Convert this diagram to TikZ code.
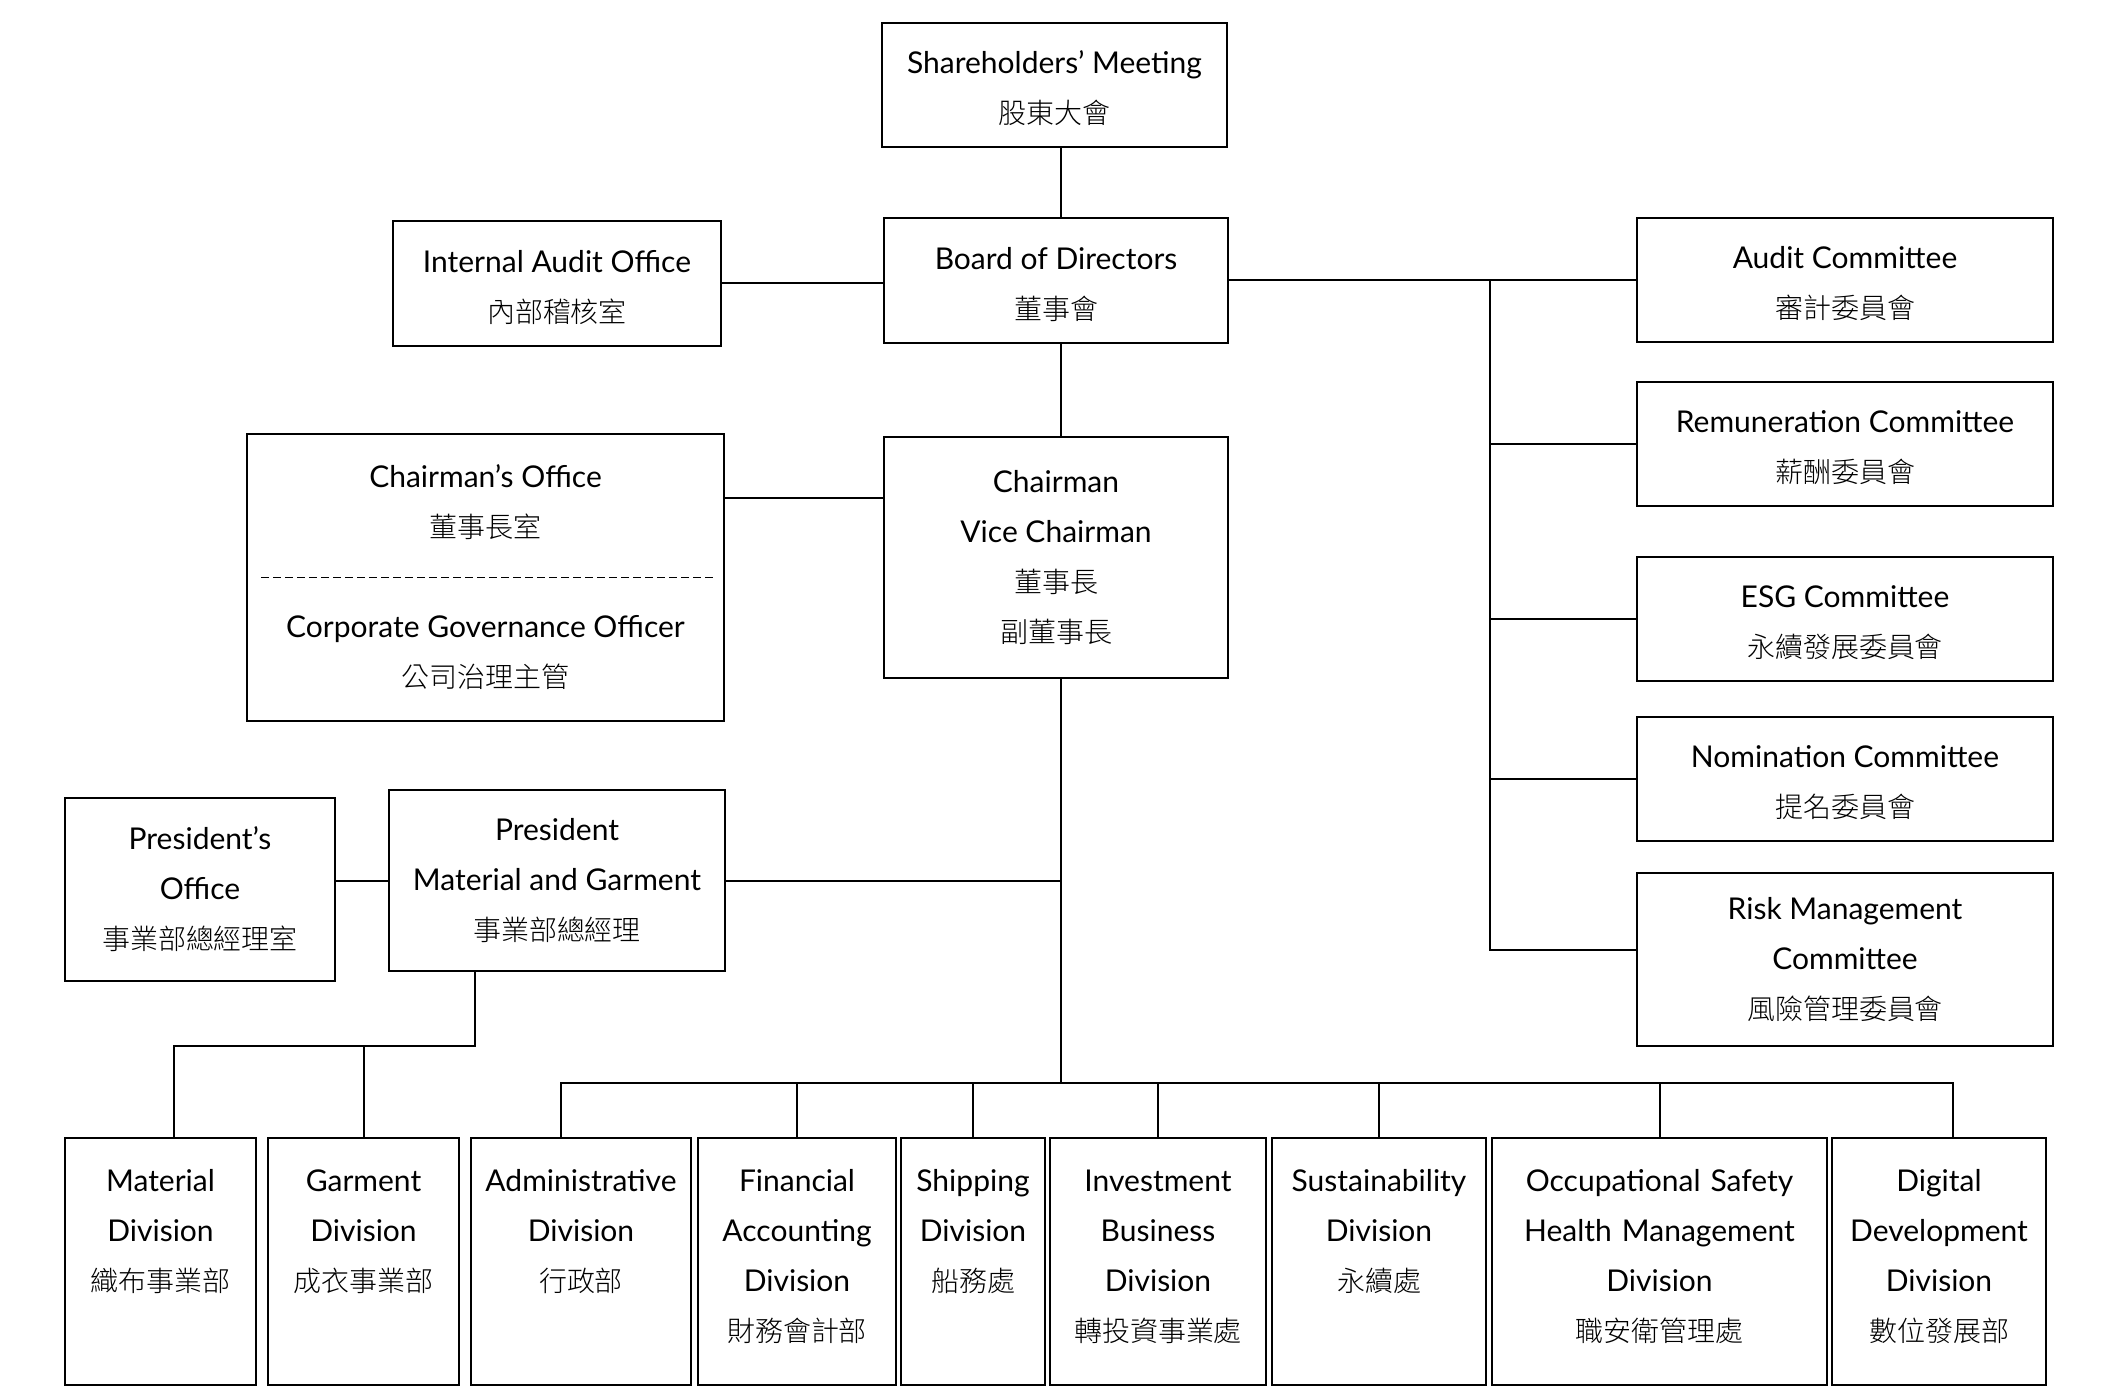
\documentclass[tikz,border=0pt]{standalone}
\usepackage{fontspec}
\setmainfont{Lato}
\IfFontExistsTF{Noto Sans CJK TC Light}{\newfontfamily\cjk{Noto Sans CJK TC Light}[Scale=0.933]}{\newfontfamily\cjk{Noto Sans CJK TC}[Scale=0.933]}

\begin{document}
\begin{tikzpicture}
  [x=0.5pt, y=-0.5pt,
   box/.style={draw, line width=1pt, align=center, inner sep=0pt, font={\fontsize{15pt}{25pt}\selectfont}},
   committee/.style={box, minimum width=208pt, minimum height=62pt},
   division/.style={box, anchor=north, text height=26.5pt, text depth=97pt}]
  \fill[white] (0,0) rectangle (2109,1400);
  \useasboundingbox (0,0) rectangle (2109,1400);

  % top of the chart (the rule lowers the two-line texts a bit)
  \node[box, minimum width=172.5pt, minimum height=62pt] (sm) at (1054.5,85) {\rule{0pt}{15pt}Shareholders’ Meeting\\{\cjk 股東大會}};
  \node[box, minimum width=172pt, minimum height=62.5pt] (bod) at (1056,280.5) {\rule{0pt}{15pt}Board of Directors\\{\cjk 董事會}};
  \node[box, minimum width=164pt, minimum height=62.5pt] (iao) at (557,283.5) {\rule{0pt}{15pt}Internal Audit Office\\{\cjk 內部稽核室}};
  \node[box, minimum width=238.5pt, minimum height=143.5pt] (cmo) at (485.5,577.5)
    {Chairman’s Office\\{\cjk 董事長室}\\[25pt]Corporate Governance Officer\\{\cjk 公司治理主管}};
  \node[box, minimum width=172pt, minimum height=120.5pt] (chm) at (1056,557.5)
    {Chairman\\Vice Chairman\\{\cjk 董事長}\\{\cjk 副董事長}};
  \node[box, minimum width=135pt, minimum height=91.5pt] (pro) at (200,889.5) {President’s\\Office\\{\cjk 事業部總經理室}};
  \node[box, minimum width=168pt, minimum height=90.5pt] (prs) at (557,880.5) {President\\Material and Garment\\{\cjk 事業部總經理}};

  % committees
  \node[committee] (audit) at (1845,280) {\rule{0pt}{15pt}Audit Committee\\{\cjk 審計委員會}};
  \node[committee] (remun) at (1845,444) {\rule{0pt}{15pt}Remuneration Committee\\{\cjk 薪酬委員會}};
  \node[committee] (esg) at (1845,619) {\rule{0pt}{15pt}ESG Committee\\{\cjk 永續發展委員會}};
  \node[committee] (nomin) at (1845,779) {\rule{0pt}{15pt}Nomination Committee\\{\cjk 提名委員會}};
  \node[committee, minimum height=86.5pt] (risk) at (1845,959.5) {Risk Management\\Committee\\{\cjk 風險管理委員會}};

  % divisions
  \node[division, text width=95.5pt] (material) at (160.5,1137) {Material\\Division\\{\cjk 織布事業部}};
  \node[division, text width=95.5pt] (garment) at (363.5,1137) {Garment\\Division\\{\cjk 成衣事業部}};
  \node[division, text width=110pt] (admin) at (581,1137) {Administrative\\Division\\{\cjk 行政部}};
  \node[division, text width=99pt] (financial) at (797,1137) {Financial\\Accounting\\Division\\{\cjk 財務會計部}};
  \node[division, text width=72pt] (shipping) at (973,1137) {Shipping\\Division\\{\cjk 船務處}};
  \node[division, text width=108pt] (investment) at (1158,1137) {Investment\\Business\\Division\\{\cjk 轉投資事業處}};
  \node[division, text width=107pt] (sustain) at (1379,1137) {Sustainability\\Division\\{\cjk 永續處}};
  \node[division, text width=167.5pt] (ohs) at (1659.5,1137) {Occupational Safety\\Health Management\\Division\\{\cjk 職安衛管理處}};
  \node[division, text width=107pt] (digital) at (1939,1137) {Digital\\Development\\Division\\{\cjk 數位發展部}};

  \draw[dash pattern=on 4pt off 2pt, line width=0.7pt] ([xshift=7.5pt]cmo.west) -- ([xshift=-5.5pt]cmo.east);

  % connectors
  \coordinate (spine) at (1061,0);
  \coordinate (rbus) at (1490,0);
  \coordinate (bus) at (1061,1083);
  \coordinate (gbus) at (475,1046);
  \coordinate (cmolink) at ([yshift=39.75pt]cmo.east);
  \coordinate (risklink) at ([yshift=4.75pt]risk.west);
  \coordinate (matlink) at ([xshift=6.75pt]material.north);
  \coordinate (adminlink) at ([xshift=-10pt]admin.north);
  \coordinate (digitallink) at ([xshift=6.75pt]digital.north);
  \begin{scope}[line width=1pt]
    \draw (spine |- sm.south) -- (spine |- bod.north);
    \draw (spine |- bod.south) -- (spine |- chm.north);
    \draw (spine |- chm.south) -- (bus);
    \draw (iao.east) -- (iao.east -| bod.west);
    \draw (cmolink) -- (cmolink -| chm.west);
    \draw (bod.east) -- (bod.east -| audit.west);
    \draw (rbus |- bod.east) |- (risklink);
    \foreach \n in {remun, esg, nomin}
      \draw (rbus |- \n.west) -- (\n.west);
    \draw (pro.east |- prs.west) -- (prs.west);
    \draw (prs.east) -- (prs.east -| spine);
    \draw (prs.south -| gbus) -- (gbus) -| (matlink);
    \draw (gbus -| garment.north) -- (garment.north);
    \draw (adminlink) |- (bus) -| (digitallink);
    \foreach \n in {financial, shipping, investment, sustain, ohs}
      \draw (bus -| \n.north) -- (\n.north);
  \end{scope}
\end{tikzpicture}
\end{document}
